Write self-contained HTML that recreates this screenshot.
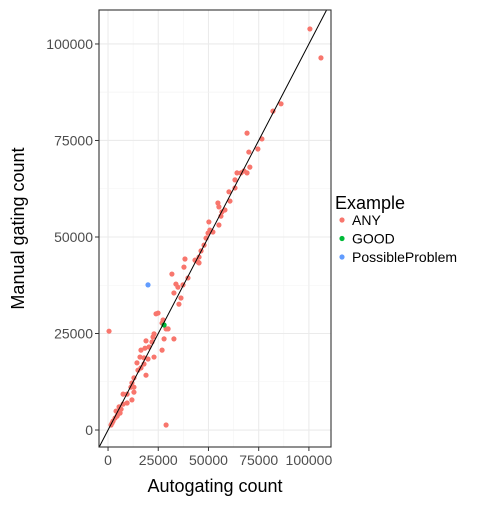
<!DOCTYPE html>
<html><head><meta charset="utf-8"><style>
body{margin:0;background:#fff;}
svg{font-family:"Liberation Sans",Arial,sans-serif;}
</style></head><body>
<svg id="chart" width="504" height="504"></svg>
<script>
const xsAny=[100.5,106,86.1,82.1,69.2,76.6,74.6,70.1,70.6,69.2,64.2,66.2,67.7,63.2,63.2,60.2,60.7,54.7,55.2,58.2,56.7,56.2,55.2,50.2,52.2,50.7,49.8,48.8,47.8,46.3,45.3,43.3,45.3,38.3,37.8,44.8,31.8,39.8,33.8,34.8,37.3,32.8,36.3,35.3,24.9,23.9,27.4,26.9,28.9,29.9,27.9,32.8,0.5,22.9,22.4,21.9,18.9,18.4,20.4,16.4,26.9,22.9,15.9,17.9,19.9,14.4,17.9,16.4,14.9,18.9,12.9,11.9,11.4,12.9,12.9,7.5,9.5,11.9,9.5,7.5,5.5,6.5,4,6,5,4.5,3.5,2.5,2,1.5,28.9];
const ysAny=[103.9,96.4,84.5,82.6,76.9,75.4,72.8,72,68.1,66.6,66.6,66.6,67.1,64.8,62.7,61.7,59.3,58.8,57.8,57,56.5,55.4,53.1,53.9,51.3,51.8,51,49.7,47.9,46.4,44.8,44,43.3,44.3,42.2,43.5,40.4,39.4,37.8,37,37.6,35.5,34.2,32.6,30.3,30.1,28.5,27.7,26.2,26.2,23.6,23.6,25.6,24.9,24.1,22.8,23.1,21.2,21.5,20.7,20.7,18.9,18.9,18.7,18.4,17.4,17.1,16.1,15.5,14.2,13.5,12.2,11.1,11.1,9.8,9.3,9.3,7.8,7,6.7,6,5.4,4.9,4.4,4.1,3.6,3.1,2.3,1.8,1.3,1.3];
const xsGood=[27.9], ysGood=[27.2];
const xsProb=[19.9], ysProb=[37.6];
const xTicks=[0,25000,50000,75000,100000];
const yTicks=[0,25000,50000,75000,100000];
const legendLabels=["ANY","GOOD","PossibleProblem"];
const legendColors=["#F8766D","#00BA38","#619CFF"];

const NS="http://www.w3.org/2000/svg";
const svg=document.getElementById('chart');
const L=99,R=331,T=10,B=447;
const xMin=-4500,xMax=111000,yMin=-4400,yMax=108800;
const sx=v=>L+(v-xMin)/(xMax-xMin)*(R-L);
const sy=v=>B-(v-yMin)/(yMax-yMin)*(B-T);
function el(tag,attrs,parent){const e=document.createElementNS(NS,tag);for(const k in attrs)e.setAttribute(k,attrs[k]);(parent||svg).appendChild(e);return e;}
const panel=el('rect',{x:L,y:T,width:R-L,height:B-T,fill:'#fff'});


const grid=el('g',{});


for(let i=0;i<xTicks.length;i++){
  const v=xTicks[i];
  el('line',{x1:sx(v),x2:sx(v),y1:T,y2:B,stroke:'#ebebeb','stroke-width':1.1},grid);
  const m=v-12500; if(sx(m)>L) el('line',{x1:sx(m),x2:sx(m),y1:T,y2:B,stroke:'#f3f3f3','stroke-width':0.6},grid);
  if(i===xTicks.length-1){const m2=v+12500;if(sx(m2)<R)el('line',{x1:sx(m2),x2:sx(m2),y1:T,y2:B,stroke:'#f3f3f3','stroke-width':0.6},grid);}
}
for(let i=0;i<yTicks.length;i++){
  const v=yTicks[i];
  el('line',{x1:L,x2:R,y1:sy(v),y2:sy(v),stroke:'#ebebeb','stroke-width':1.1},grid);
  const m=v-12500; if(sy(m)<B) el('line',{x1:L,x2:R,y1:sy(m),y2:sy(m),stroke:'#f3f3f3','stroke-width':0.6},grid);
  const m2=v+12500; if(sy(m2)>T) el('line',{x1:L,x2:R,y1:sy(m2),y2:sy(m2),stroke:'#f3f3f3','stroke-width':0.6},grid);
}
const pts=el('g',{});


function drawPts(xs,ys,c,name){for(let i=0;i<xs.length;i++){const p=el('circle',{cx:sx(xs[i]*1000),cy:sy(ys[i]*1000),r:2.6,fill:c},pts);

}}
drawPts(xsAny,ysAny,legendColors[0],'point-any');
drawPts(xsGood,ysGood,legendColors[1],'point-good');
drawPts(xsProb,ysProb,legendColors[2],'point-possible-problem');
const a=Math.max(xMin,yMin),b=Math.min(xMax,yMax);
const ln=el('line',{x1:sx(a),y1:sy(a),x2:sx(b),y2:sy(b),stroke:'#000','stroke-width':1});


const border=el('rect',{x:L,y:T,width:R-L,height:B-T,fill:'none',stroke:'#333','stroke-width':1.1});


for(const v of xTicks){
  el('line',{x1:sx(v),x2:sx(v),y1:B,y2:B+4,stroke:'#333'});
  const t=el('text',{x:sx(v),y:B+18,'text-anchor':'middle','font-size':14,fill:'#4d4d4d'});t.textContent=v;
  
  
}
for(const v of yTicks){
  el('line',{x1:L-4,x2:L,y1:sy(v),y2:sy(v),stroke:'#333'});
  const t=el('text',{x:L-6,y:sy(v)+5,'text-anchor':'end','font-size':14,fill:'#4d4d4d'});t.textContent=v;
  
  
}
const xt=el('text',{x:(L+R)/2,y:492,'text-anchor':'middle','font-size':18,fill:'#000'});xt.textContent='Autogating count';


const yt=el('text',{x:0,y:0,'text-anchor':'middle','font-size':18,fill:'#000',transform:`translate(24,${(T+B)/2}) rotate(-90)`});yt.textContent='Manual gating count';


const lt=el('text',{x:335,y:209,'font-size':18,fill:'#000'});lt.textContent='Example';


for(let i=0;i<legendLabels.length;i++){
  const y=220+i*18.5;
  const c=el('circle',{cx:342,cy:y,r:2.6,fill:legendColors[i]});
  
  
  const t=el('text',{x:352,y:y+5,'font-size':14,fill:'#000'});t.textContent=legendLabels[i];
  
  
}
</script>
</body></html>
